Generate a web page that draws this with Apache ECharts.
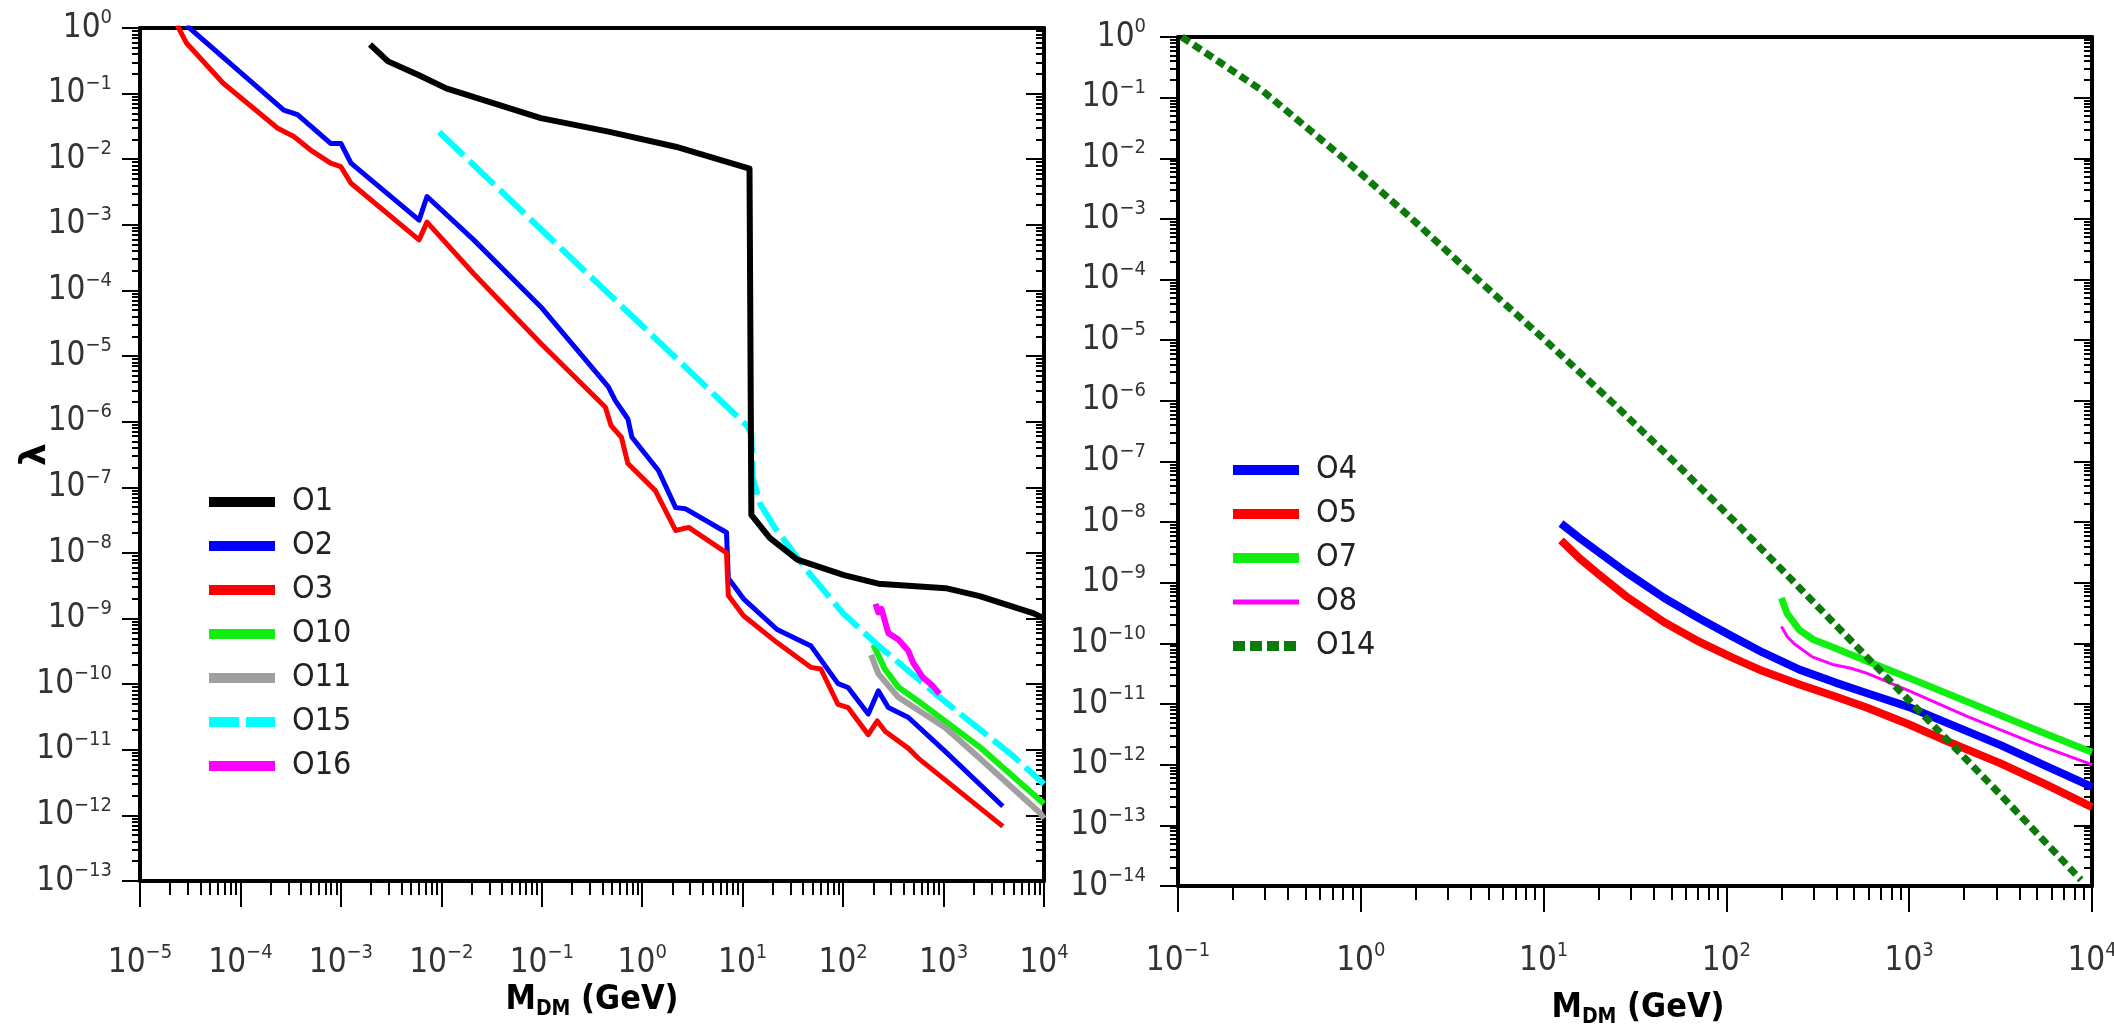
<!DOCTYPE html>
<html><head><meta charset="utf-8">
<script src="https://cdn.jsdelivr.net/npm/echarts@6/dist/echarts.min.js"></script>
<style>html,body{margin:0;padding:0;background:#fff}#c{width:2114px;height:1034px}</style>
</head><body><div id="c"></div>
<script>
// ---------- data ----------
const leftNames = ['O1','O2','O3','O10','O11','O15','O16'];
const rightNames = ['O4','O5','O7','O8','O14'];
const leftXRange = [1e-5, 1e4];
const leftYRange = [1e-13, 1];
const rightXRange = [1e-1, 1e4];
const rightYRange = [1e-14, 1];

const o1 = [[1.95e-3,0.56],[2.95e-3,0.31],[6.0e-3,0.19],[0.0112,0.12],[0.098,0.0424],[0.46,0.0263],[2.15,0.0155],[11.7,7.2e-3],[12.2,7.0e-3],[12.2,3.8e-8],[18.6,1.7e-8],[35,7.9e-9],[102,4.6e-9],[224,3.4e-9],[1050,2.9e-9],[2290,2.2e-9],[7900,1.2e-9],[1e4,1.0e-9]];
const o2 = [[2.9e-5,1.1],[2.7e-4,0.056],[3.7e-4,0.048],[7.9e-4,0.0174],[1.0e-3,0.0174],[1.26e-3,8.7e-3],[6.0e-3,1.18e-3],[7.2e-3,2.7e-3],[0.021,5.9e-4],[0.098,5.6e-5],[0.46,3.4e-6],[0.54,2.1e-6],[0.72,1.1e-6],[0.79,5.8e-7],[1.45,1.8e-7],[2.15,4.9e-8],[2.7,4.7e-8],[2.9,4.4e-8],[6.9,2.05e-8],[7.2,4.1e-9],[10.2,2.0e-9],[22,6.8e-10],[48,3.8e-10],[89,1.02e-10],[112,8.9e-11],[178,3.5e-11],[224,7.9e-11],[282,4.4e-11],[447,3.1e-11],[1050,9.3e-12],[3890,1.38e-12]];
const o3 = [[2.35e-5,1.1],[2.9e-5,0.59],[6.7e-5,0.145],[2.35e-4,0.0297],[3.4e-4,0.0222],[5.0e-4,0.0138],[7.9e-4,8.7e-3],[1.0e-3,7.7e-3],[1.26e-3,4.3e-3],[6.0e-3,5.9e-4],[7.2e-3,1.1e-3],[0.021,1.8e-4],[0.098,1.55e-5],[0.43,1.66e-6],[0.49,8.7e-7],[0.62,5.8e-7],[0.72,2.3e-7],[1.35,8.9e-8],[2.15,2.2e-8],[2.9,2.45e-8],[6.9,1.0e-8],[7.2,2.25e-9],[10.2,1.1e-9],[22,4.3e-10],[48,1.8e-10],[60,1.7e-10],[89,4.9e-11],[112,4.4e-11],[178,1.7e-11],[219,2.75e-11],[263,1.9e-11],[447,1.05e-11],[562,7.4e-12],[3890,6.8e-13]];
const o10 = [[200,4.0e-10],[260,1.7e-10],[355,9.0e-11],[560,5.5e-11],[2290,1.1e-11],[1e4,1.5e-12]];
const o11 = [[190,2.8e-10],[224,1.45e-10],[355,6.3e-11],[1050,2.15e-11],[2290,7.4e-12],[9100,1.1e-12],[1e4,9.0e-13]];
const o15 = [[9.5e-3,0.026],[11,8.7e-7],[12.2,6.5e-7],[12.6,1.4e-7],[15,5.5e-8],[21,2.4e-8],[46,4.9e-9],[100,1.2e-9],[215,4.1e-10],[1020,5.5e-11],[4800,8.3e-12],[1e4,3.0e-12]];
const o16 = [[210,1.67e-9],[224,1.24e-9],[241,1.4e-9],[282,6.0e-10],[355,4.8e-10],[447,3.2e-10],[500,2.1e-10],[617,1.29e-10],[776,9.5e-11],[912,7.1e-11]];

const o4 = [[12.45,9.5e-9],[15.8,5.4e-9],[20,3.2e-9],[28.2,1.5e-9],[45.7,5.6e-10],[70.8,2.6e-10],[107,1.32e-10],[158,7.1e-11],[251,3.7e-11],[398,2.24e-11],[589,1.51e-11],[1000,8.9e-12],[1585,5.0e-12],[3160,2.1e-12],[5620,9.5e-13],[1e4,4.3e-13]];
const o5 = [[12.45,5.0e-9],[15.8,2.5e-9],[20,1.38e-9],[28.2,6.0e-10],[45.7,2.24e-10],[70.8,1.07e-10],[107,5.9e-11],[158,3.5e-11],[251,2.1e-11],[398,1.32e-11],[589,8.7e-12],[1000,4.6e-12],[1585,2.5e-12],[3160,1.05e-12],[5620,4.7e-13],[1e4,2.0e-13]];
const o7 = [[200,5.6e-10],[215,3.1e-10],[251,1.66e-10],[300,1.15e-10],[380,8.7e-11],[589,5.1e-11],[1000,2.7e-11],[2000,1.15e-11],[5000,3.7e-12],[1e4,1.6e-12]];
const o8 = [[200,1.9e-10],[215,1.3e-10],[234,1.0e-10],[295,6.0e-11],[380,4.5e-11],[480,3.9e-11],[589,3.2e-11],[1000,1.65e-11],[2090,6.2e-12],[4900,2.2e-12],[1e4,1.0e-12]];
const o14 = [[0.105,1.0],[0.29,0.13],[0.79,0.0105],[1.86,1.07e-3],[4.4,9.8e-5],[10.2,1.0e-5],[23.7,9.5e-7],[55,8.3e-8],[110,1.05e-8],[251,8.3e-10],[589,5.9e-11],[1380,4.2e-12],[3160,3.2e-13],[8700,1.26e-14]];

// ---------- styles ----------
const F = '"Liberation Sans Narrow", "DejaVu Sans Condensed", "Liberation Sans", sans-serif';
const TXT = '#333';
const style = {
  O1:{color:'#000000', width:6, type:'solid', lw:10},
  O2:{color:'#0000ff', width:5, type:'solid', lw:10},
  O3:{color:'#ff0000', width:5, type:'solid', lw:10},
  O10:{color:'#11ee11', width:6, type:'solid', lw:10},
  O11:{color:'#a0a0a0', width:6, type:'solid', lw:10},
  O15:{color:'#00ffff', width:6, type:[34,8], lw:10, ltype:[30,7]},
  O16:{color:'#ff00ff', width:6, type:'solid', lw:10},
  O4:{color:'#0000ff', width:8, type:'solid', lw:10},
  O5:{color:'#ff0000', width:8, type:'solid', lw:10},
  O7:{color:'#11ee11', width:7, type:'solid', lw:10},
  O8:{color:'#ff00ff', width:3, type:'solid', lw:5},
  O14:{color:'#0b7a0b', width:7, type:[9,5], lw:10, ltype:[12,5]}
};
const dataMap = {O1:o1,O2:o2,O3:o3,O10:o10,O11:o11,O15:o15,O16:o16,O4:o4,O5:o5,O7:o7,O8:o8,O14:o14};

function supLabel(v){
  const e = Math.round(Math.log10(v));
  if (Math.abs(Math.log10(v) - e) > 0.01) return '';
  const s = e < 0 ? '\u2212' + (-e) : String(e);
  return '{b|10}{s|' + s + '}';
}
const richLab = {
  b:{fontSize:33, fontFamily:F, color:TXT, lineHeight:40},
  s:{fontSize:20, fontFamily:F, color:TXT, verticalAlign:'top', lineHeight:40}
};
const richName = {
  m:{fontSize:34, fontWeight:'bold', fontFamily:F, color:'#000', lineHeight:40},
  d:{fontSize:21, fontWeight:'bold', fontFamily:F, color:'#000', verticalAlign:'bottom', lineHeight:40}
};
const AL = {show:true, onZero:false, lineStyle:{color:'#000', width:4}};

function mainX(grid, range, margin){
  return {type:'log', logBase:10, gridIndex:grid, position:'bottom', min:range[0], max:range[1], interval:1,
    axisLine:AL, axisTick:{show:true, length:26, lineStyle:{color:'#000', width:2}},
    minorTick:{show:true, splitNumber:9, length:14, lineStyle:{color:'#000', width:2}},
    splitLine:{show:false}, minorSplitLine:{show:false},
    axisLabel:{margin:margin, formatter:supLabel, rich:richLab, hideOverlap:false}};
}
function topX(grid, range){
  return {type:'log', logBase:10, gridIndex:grid, position:'top', min:range[0], max:range[1], interval:1,
    axisLine:AL, axisTick:{show:false}, minorTick:{show:false}, axisLabel:{show:false}, splitLine:{show:false}};
}
function mainY(grid, range, margin, name){
  return {type:'log', logBase:10, gridIndex:grid, position:'left', min:range[0], max:range[1], interval:1,
    axisLine:AL, axisTick:{show:true, length:18, lineStyle:{color:'#000', width:2}},
    minorTick:{show:true, splitNumber:9, length:8, lineStyle:{color:'#000', width:2}},
    splitLine:{show:false}, minorSplitLine:{show:false},
    axisLabel:{margin:margin, formatter:supLabel, rich:richLab},
    name:name, nameLocation:'middle', nameGap:86, nameMoveOverlap:false,
    nameTextStyle:{fontSize:36, fontWeight:'bold', fontFamily:'"DejaVu Sans", sans-serif', color:'#000'}};
}
function rightY(grid, range){
  return {type:'log', logBase:10, gridIndex:grid, position:'right', min:range[0], max:range[1], interval:1,
    axisLine:AL, axisTick:{show:true, inside:true, length:18, lineStyle:{color:'#000', width:2}},
    minorTick:{show:true, splitNumber:9, length:8, lineStyle:{color:'#000', width:2}},
    splitLine:{show:false}, minorSplitLine:{show:false}, axisLabel:{show:false}};
}
function mkSeries(name, xi, yi){
  const st = style[name];
  return {name:name, type:'line', xAxisIndex:xi, yAxisIndex:yi, data:dataMap[name],
    showSymbol:false, symbol:'none', smooth:false, z: name==='O1' ? 5 : 2,
    lineStyle:{color:st.color, width:st.width, type:st.type, join:'round', cap:'butt'},
    itemStyle:{color:st.color}};
}
function mkLegend(names, left, top){
  return {data:names.map(n => ({name:n, lineStyle:{width:style[n].lw, type:style[n].ltype || style[n].type}})),
    orient:'vertical', left:left, top:top, itemWidth:66, itemHeight:14, itemGap:10, selectedMode:false,
    itemStyle:{opacity:0},
    textStyle:{fontSize:32, fontFamily:F, color:'#222', lineHeight:34, padding:[0,0,0,12]}};
}
function xTitle(cx, cy){
  return {type:'text', x:cx, y:cy, z:100,
    style:{text:'{m|M}{d|DM}{m| (GeV)}', rich:richName, align:'center', verticalAlign:'middle',
      textAlign:'center', textVerticalAlign:'middle'}};
}

const chart = echarts.init(document.getElementById('c'), null, {renderer:'canvas'});
chart.setOption({
  animation:false,
  backgroundColor:'#fff',
  grid:[
    {left:140, top:28, width:904, height:853, containLabel:false, outerBoundsMode:'none'},
    {left:1178, top:37, width:914, height:849, containLabel:false, outerBoundsMode:'none'}
  ],
  xAxis:[mainX(0, leftXRange, 62), topX(0, leftXRange), mainX(1, rightXRange, 55), topX(1, rightXRange)],
  yAxis:[mainY(0, leftYRange, 28, '\u03bb'), rightY(0, leftYRange), mainY(1, rightYRange, 32, ''), rightY(1, rightYRange)],
  legend:[mkLegend(leftNames, 199, 480), mkLegend(rightNames, 1223, 448)],
  graphic:[xTitle(592, 1000), xTitle(1638, 1008)],
  series:[...leftNames.map(n => mkSeries(n, 0, 0)), ...rightNames.map(n => mkSeries(n, 2, 2))]
});
</script></body></html>
